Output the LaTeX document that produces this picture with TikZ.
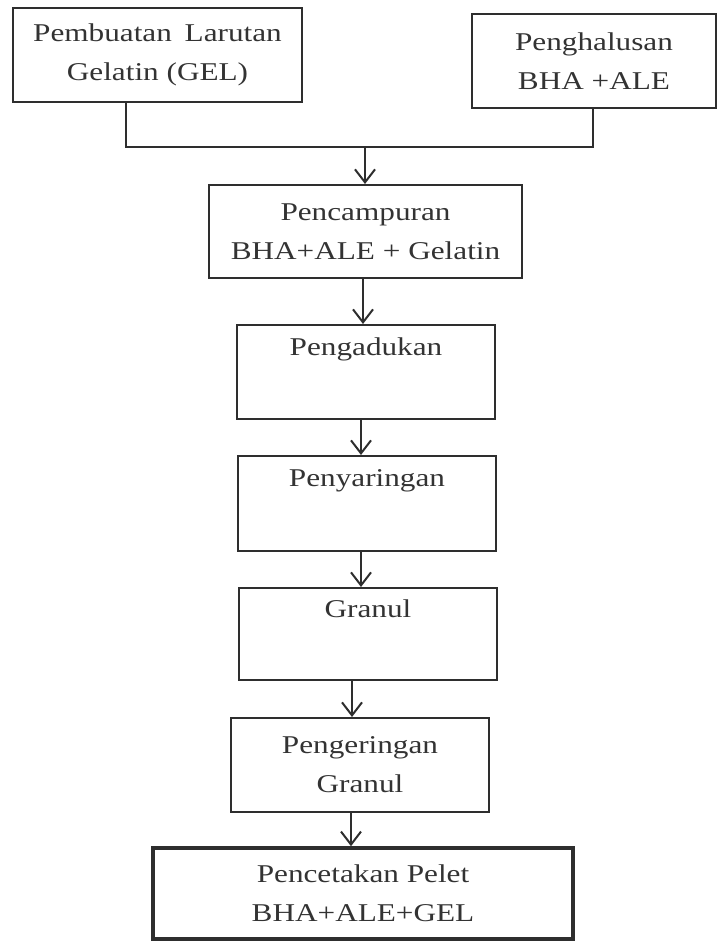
\documentclass[tikz,border=0pt]{standalone}
\usepackage{fontspec}
\setmainfont{Liberation Serif}[FakeStretch=1.22]
\usetikzlibrary{arrows.meta}
\definecolor{linec}{gray}{0.18}
\definecolor{textc}{gray}{0.2}
\begin{document}
\begin{tikzpicture}[x=0.5pt,y=-0.5pt,
  box/.style={draw=linec, line width=1pt, inner sep=0pt, align=center, text=textc,
    font=\fontsize{12.8}{19.5}\selectfont},
  endbox/.style={box, line width=1.8pt},
  conn/.style={draw=linec, line width=1pt},
  arr/.style={conn, -{Straight Barb[length=6.5pt,width=10pt]}}]
\useasboundingbox (0,0) rectangle (718,941);

\node[box, minimum width=144.5pt, minimum height=47pt] (b1) at (157.5,55)
  {Pembuatan\hspace{0.5em}Larutan\\Gelatin (GEL)};
\node[box, minimum width=122pt, minimum height=47pt] (b2) at (594,61)
  {Penghalusan\\BHA +ALE};
\node[box, minimum width=156.5pt, minimum height=46.5pt] (b3) at (365.5,231.5)
  {Pencampuran\\BHA+ALE + Gelatin};
\node[box, minimum width=129pt, minimum height=47pt] (b4) at (366,372)
  {Pengadukan\\\strut};
\node[box, minimum width=129pt, minimum height=47.5pt] (b5) at (367,503.5)
  {Penyaringan\\\strut};
\node[box, minimum width=129pt, minimum height=46pt] (b6) at (368,634)
  {Granul\\\strut};
\node[box, minimum width=129pt, minimum height=47pt] (b7) at (360,765)
  {Pengeringan\\Granul};
\node[endbox, minimum width=210pt, minimum height=45.5pt] (b8) at (363,893.5)
  {Pencetakan Pelet\\BHA+ALE+GEL};

\coordinate (p1) at (126,0);
\coordinate (p2) at (593,0);
\coordinate (j) at (365,147);
\coordinate (a1) at (363,0);
\coordinate (a2) at (361,0);
\coordinate (a3) at (361,0);
\coordinate (a4) at (352,0);
\coordinate (a5) at (351,0);

\draw[conn] (b1.south -| p1) |- (j) -| (b2.south -| p2);
\draw[arr] (j) -- (b3.north -| j);
\draw[arr] (b3.south -| a1) -- (b4.north -| a1);
\draw[arr] (b4.south -| a2) -- (b5.north -| a2);
\draw[arr] (b5.south -| a3) -- (b6.north -| a3);
\draw[arr] (b6.south -| a4) -- (b7.north -| a4);
\draw[arr] (b7.south -| a5) -- (b8.north -| a5);
\end{tikzpicture}
\end{document}
